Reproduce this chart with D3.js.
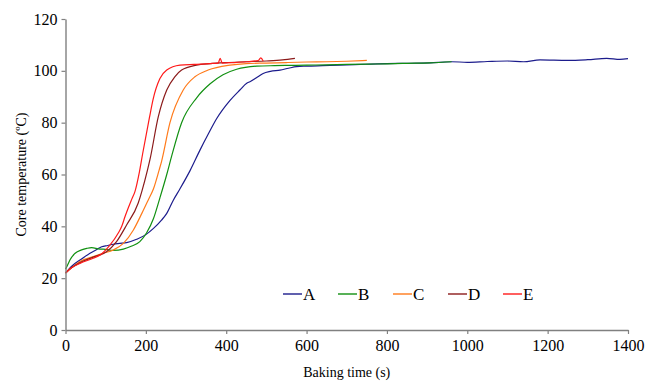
<!DOCTYPE html>
<html>
<head>
<meta charset="utf-8">
<script src="https://cdn.jsdelivr.net/npm/d3@7"></script>
<style>
  body { margin: 0; background: #fff; }
  svg { display: block; font-family: "Liberation Serif", "Times New Roman", serif; }
  svg text { font-family: "Liberation Serif", "Times New Roman", serif; }
</style>
</head>
<body>
<svg id="fig1" width="661" height="385"></svg>
<script>
// readings taken off the curves by eye
const seriesNames = ['A', 'B', 'C', 'D', 'E'];
const seriesColors = ['#1c1c8c', '#119011', '#ff7a1a', '#8b1a1a', '#ff1a1a'];

const timeA = [0, 10, 19, 36, 61, 78, 90, 105, 119, 135, 152, 177, 200, 219, 239, 252, 268, 285, 310, 335, 355, 376, 409, 434, 451, 459, 479, 492, 510, 534, 555, 575, 600, 640, 682, 720, 760, 800, 850, 907, 961, 1000, 1050, 1100, 1140, 1181, 1250, 1300, 1347, 1380, 1400];
const tempA = [22, 23.8, 25.1, 27, 29.6, 31.1, 32.1, 32.6, 33.1, 33.4, 33.7, 35, 36.8, 39.2, 42.4, 45, 50, 54.5, 61.5, 69.5, 75.5, 81.5, 88.5, 92.6, 95.2, 95.8, 97.7, 99, 99.8, 100.3, 101, 101.6, 101.8, 102, 102.2, 102.4, 102.6, 102.8, 102.9, 103.1, 103.5, 103.3, 103.6, 103.8, 103.5, 104.2, 104, 104.3, 104.8, 104.4, 104.7];

const timeB = [0, 5, 11, 24, 40, 53, 65, 86, 94, 119, 144, 165, 185, 202, 219, 235, 252, 264, 289, 326, 360, 392, 426, 476, 520, 560, 600, 650, 700, 750, 800, 850, 907, 961];
const tempB = [23.5, 25, 27, 29.6, 30.9, 31.5, 31.8, 31.2, 31.2, 30.7, 31.2, 32.4, 34.1, 37.5, 43, 51, 60, 67, 80, 89.5, 95, 98.5, 100.6, 101.8, 102, 102.1, 102.2, 102.3, 102.5, 102.6, 102.7, 102.9, 103.1, 103.5];

const timeC = [0, 15, 36, 69, 94, 119, 144, 169, 190, 206, 219, 233, 239, 260, 293, 322, 355, 409, 450, 500, 550, 600, 650, 700, 750];
const tempC = [22, 24, 26.4, 28.3, 29.6, 30.9, 33.4, 38.6, 45, 50.2, 54.5, 61.7, 65, 80, 92.6, 97.7, 100.3, 102.2, 102.8, 103, 103.2, 103.4, 103.5, 103.7, 104];

const timeD = [0, 15, 36, 69, 102, 127, 152, 181, 190, 204, 210, 231, 252, 272, 289, 326, 360, 400, 450, 500, 540, 571];
const tempD = [22, 24, 26, 28.1, 30.2, 34.1, 40.5, 49, 53.5, 61.7, 65.6, 82.3, 92.6, 97.7, 100.3, 102.2, 102.8, 103.2, 103.5, 103.8, 104.2, 104.8];

const timeE = [0, 15, 36, 69, 86, 111, 131, 140, 148, 165, 173, 184, 192, 209, 218, 235, 252, 285, 320, 360, 380, 385, 390, 420, 450, 480, 486, 492];
const tempE = [22, 24, 25.7, 27.7, 28.9, 32.8, 37.3, 40, 43.7, 50.5, 53.5, 61, 68, 82, 89, 97, 100.3, 102.2, 102.5, 102.8, 103, 104.8, 103, 103.2, 103.5, 104, 105, 103.8];

const xTicks = [0, 200, 400, 600, 800, 1000, 1200, 1400];
const yTicks = [0, 20, 40, 60, 80, 100, 120];

const times = [timeA, timeB, timeC, timeD, timeE];
const temps = [tempA, tempB, tempC, tempD, tempE];

const svg = d3.select('#fig1');
const margin = { top: 19, right: 33, bottom: 55, left: 65.5 };
const width = 661, height = 385;

const x = d3.scaleLinear().domain([0, 1400]).range([margin.left, width - margin.right]);
const y = d3.scaleLinear().domain([0, 120]).range([height - margin.bottom, margin.top]);

const series = seriesNames.map((name, i) => ({
    name: name,
    color: seriesColors[i],
    values: times[i].map((t, j) => ({ t: t, v: temps[i][j] }))
}));

const line = d3.line()
    .x(d => x(d.t))
    .y(d => y(d.v))
    .curve(d3.curveMonotoneX);

// draw A first so the later ones sit on top like the original
svg.append('g').selectAll('path').data(series).join('path')
    .attr('d', d => line(d.values))
    .attr('fill', 'none')
    .attr('stroke', d => d.color)
    .attr('stroke-width', 1.2);

// axes
const fmt = d3.format('d');
const xAxis = svg.append('g')
    .attr('transform', `translate(0, ${y(0)})`)
    .call(d3.axisBottom(x).tickValues(xTicks).tickFormat(fmt).tickSize(4).tickSizeOuter(0).tickPadding(6));
const yAxis = svg.append('g')
    .attr('transform', `translate(${x(0)}, 0)`)
    .call(d3.axisLeft(y).tickValues(yTicks).tickFormat(fmt).tickSize(4).tickSizeOuter(0).tickPadding(4));

[xAxis, yAxis].forEach(ax => {
    ax.attr('font-family', '"Liberation Serif", serif').attr('font-size', 16);
    ax.select('.domain').attr('stroke', '#808080').attr('stroke-width', 1.4);
    ax.selectAll('.tick line').attr('stroke', '#808080').attr('stroke-width', 1.2);
    ax.selectAll('.tick text').attr('fill', '#000');
});

// axis titles
svg.append('text')
    .attr('x', (x(0) + x(1400)) / 2)
    .attr('y', 377)
    .attr('text-anchor', 'middle')
    .style('font-size', '14px')
    .text('Baking time (s)');

svg.append('text')
    .attr('transform', `translate(26, ${(y(0) + y(120)) / 2}) rotate(-90)`)
    .attr('text-anchor', 'middle')
    .style('font-size', '14px')
    .text('Core temperature (ºC)');

// legend
const legend = svg.append('g').attr('transform', 'translate(283, 294)');
const item = legend.selectAll('g').data(series).join('g')
    .attr('transform', (d, i) => `translate(${i * 55}, 0)`);
item.append('line')
    .attr('x1', 0).attr('x2', 19)
    .attr('stroke', d => d.color)
    .attr('stroke-width', 1.4);
item.append('text')
    .attr('x', 20)
    .attr('y', 6)
    .style('font-size', '17px')
    .text(d => d.name);
</script>
</body>
</html>
